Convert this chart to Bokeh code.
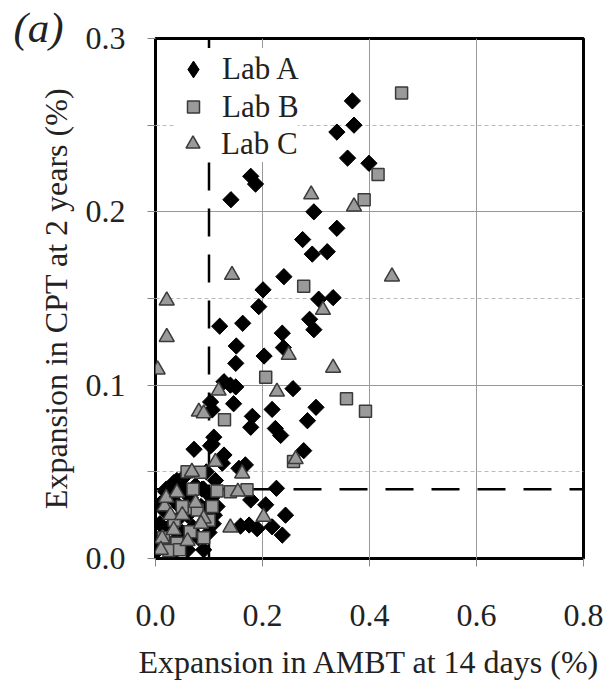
import numpy as np
from bokeh.plotting import figure
from bokeh.models import Range1d, Title, Legend, LegendItem, FixedTicker, PrintfTickFormatter
from bokeh.embed import file_html
from bokeh.resources import INLINE

# ---- data ----
lab_a_x = [0.368, 0.371, 0.339, 0.359, 0.399, 0.178, 0.187, 0.141, 0.296, 0.339,
           0.275, 0.293, 0.321, 0.240, 0.201, 0.305, 0.332, 0.193, 0.288, 0.296,
           0.120, 0.163, 0.237, 0.151, 0.239, 0.203, 0.150, 0.128, 0.140, 0.150,
           0.257, 0.103, 0.146, 0.300, 0.218, 0.106, 0.181, 0.284, 0.178, 0.224,
           0.234, 0.109, 0.103, 0.072, 0.277, 0.125, 0.128, 0.106, 0.156, 0.168,
           0.053, 0.034, 0.019, 0.062, 0.087, 0.226, 0.178, 0.103, 0.009, 0.206,
           0.243, 0.159, 0.175, 0.190, 0.218, 0.237,
           0.005, 0.010, 0.008, 0.015, 0.020, 0.025, 0.030, 0.035, 0.040, 0.045,
           0.050, 0.055, 0.060, 0.065, 0.070, 0.075, 0.080, 0.085, 0.090, 0.095,
           0.100, 0.105, 0.110, 0.112, 0.095, 0.020, 0.040, 0.060, 0.030, 0.090,
           0.115, 0.108]
lab_a_y = [0.264, 0.250, 0.246, 0.231, 0.228, 0.2205, 0.216, 0.207, 0.200, 0.1905,
           0.184, 0.1756, 0.177, 0.1626, 0.155, 0.1496, 0.1505, 0.1453, 0.138, 0.132,
           0.134, 0.1357, 0.130, 0.1226, 0.1217, 0.1168, 0.1126, 0.102, 0.100, 0.099,
           0.098, 0.0903, 0.0893, 0.0872, 0.086, 0.0857, 0.082, 0.0795, 0.0757, 0.075,
           0.071, 0.070, 0.065, 0.063, 0.0622, 0.055, 0.0597, 0.066, 0.052, 0.054,
           0.047, 0.0437, 0.0385, 0.039, 0.040, 0.0405, 0.0338, 0.0316, 0.0316, 0.031,
           0.025, 0.0187, 0.0193, 0.0172, 0.0183, 0.0135,
           0.005, 0.012, 0.020, 0.028, 0.008, 0.018, 0.035, 0.010, 0.022, 0.030,
           0.015, 0.040, 0.025, 0.035, 0.018, 0.042, 0.012, 0.030, 0.040, 0.028,
           0.015, 0.035, 0.025, 0.045, 0.050, 0.040, 0.045, 0.005, 0.002, 0.005,
           0.030, 0.020]

lab_b_x = [0.460, 0.416, 0.390, 0.277, 0.206, 0.357, 0.3925, 0.129, 0.059, 0.084,
           0.115, 0.140, 0.171, 0.106, 0.065, 0.078, 0.065, 0.040, 0.025, 0.258,
           0.015, 0.035, 0.050, 0.070, 0.090, 0.100, 0.045]
lab_b_y = [0.2685, 0.2215, 0.207, 0.157, 0.1045, 0.0922, 0.085, 0.080, 0.050, 0.0497,
           0.039, 0.0385, 0.0397, 0.030, 0.029, 0.028, 0.0155, 0.0088, 0.0046, 0.056,
           0.012, 0.022, 0.030, 0.040, 0.012, 0.022, 0.005]

lab_c_x = [0.371, 0.291, 0.143, 0.442, 0.021, 0.313, 0.021, 0.249, 0.332, 0.004,
           0.118, 0.227, 0.081, 0.090, 0.262, 0.112, 0.162, 0.068, 0.154, 0.017,
           0.028, 0.090, 0.140, 0.202, 0.034, 0.0125,
           0.020, 0.050, 0.060, 0.075, 0.040, 0.085, 0.010]
lab_c_y = [0.203, 0.210, 0.1636, 0.1626, 0.1488, 0.1434, 0.1277, 0.1174, 0.110, 0.109,
           0.0968, 0.0962, 0.0847, 0.0837, 0.0573, 0.0557, 0.049, 0.050, 0.0385, 0.030,
           0.025, 0.023, 0.0178, 0.024, 0.0164, 0.0115,
           0.035, 0.025, 0.010, 0.032, 0.038, 0.020, 0.005]

x_ticks = [0.0, 0.2, 0.4, 0.6, 0.8]
y_ticks = [0.0, 0.1, 0.2, 0.3]
y_minor_ticks = [0.05, 0.15, 0.25]
ambt_limit = 0.10   # AMBT 14-day limit (%)
cpt_limit = 0.04    # CPT 2-year limit (%)

x_title = "Expansion in AMBT at 14 days (%)"
y_title = "Expansion in CPT at 2 years (%)"
panel_tag = "(a)"
series_names = ["Lab A", "Lab B", "Lab C"]

FONT = "Liberation Serif"
FS = "32px"

p = figure(width=605, height=685, output_backend="svg", toolbar_location=None,
           x_range=Range1d(x_ticks[0], x_ticks[-1]), y_range=Range1d(y_ticks[0], y_ticks[-1]),
           min_border_left=155, min_border_right=22, min_border_top=38, min_border_bottom=127)

p.background_fill_color = "white"
p.border_fill_color = "white"
p.outline_line_color = "black"
p.outline_line_width = 3

p.xaxis.ticker = FixedTicker(ticks=x_ticks, minor_ticks=[])
p.yaxis.ticker = FixedTicker(ticks=y_ticks, minor_ticks=y_minor_ticks)
p.xaxis.formatter = PrintfTickFormatter(format="%.1f")
p.yaxis.formatter = PrintfTickFormatter(format="%.1f")

for ax in (p.xaxis[0], p.yaxis[0]):
    ax.axis_line_color = None
    ax.major_tick_line_color = "#888888"
    ax.minor_tick_line_color = "#888888"
    ax.major_tick_in = 0
    ax.major_tick_out = 8
    ax.minor_tick_in = 0
    ax.minor_tick_out = 8
    ax.major_label_text_font = FONT
    ax.major_label_text_font_size = FS
    ax.major_label_text_color = "#222222"
    ax.axis_label_text_font = FONT
    ax.axis_label_text_font_size = FS
    ax.axis_label_text_font_style = "normal"
    ax.axis_label_text_color = "#222222"

p.xaxis.axis_label = x_title
p.yaxis.axis_label = y_title
p.xaxis.major_label_standoff = 38
p.xaxis.axis_label_standoff = 15
p.yaxis.major_label_standoff = 22
p.yaxis.axis_label_standoff = 9

p.xgrid.grid_line_color = "#999999"
p.ygrid.grid_line_color = "#999999"
p.ygrid.minor_grid_line_color = "#bbbbbb"
p.ygrid.minor_grid_line_dash = "4 3"

# limit lines
p.line(x=[ambt_limit, ambt_limit], y=[y_ticks[0], y_ticks[-1]],
       line_color="black", line_width=2.5, line_dash="28 18")
p.line(x=[x_ticks[0], x_ticks[-1]], y=[cpt_limit, cpt_limit],
       line_color="black", line_width=2.5, line_dash="28 18")

# Lab A: a diamond layer (used as the legend key) under rotated squares
ra_key = p.scatter(lab_a_x, lab_a_y, marker="diamond", size=15,
                   fill_color="black", line_color="black", line_width=1)
ra = p.scatter(lab_a_x, lab_a_y, marker="square", angle=np.pi / 4, size=11.5,
               fill_color="black", line_color="black", line_width=1)
rb = p.scatter(lab_b_x, lab_b_y, marker="square", size=12,
               fill_color="#9a9a9a", line_color="#3a3a3a", line_width=1.5)
rc = p.scatter(lab_c_x, lab_c_y, marker="triangle", size=15,
               fill_color="#9a9a9a", line_color="#3a3a3a", line_width=1.5)


def make_legend(label, renderer, gw, gh, standoff, loc):
    return Legend(items=[LegendItem(label=label, renderers=[renderer])],
                  location=loc, margin=0, padding=0, spacing=0,
                  glyph_width=gw, glyph_height=gh, label_height=37, label_standoff=standoff,
                  label_text_font=FONT, label_text_font_size="31px", label_text_color="#222222",
                  background_fill_color="white", background_fill_alpha=1.0,
                  border_line_color=None)


p.add_layout(make_legend(series_names[0], ra_key, 42, 42, 8, (17, 468)))
p.add_layout(make_legend(series_names[1], rb, 30, 37, 14, (23, 433)))
p.add_layout(make_legend(series_names[2], rc, 35, 37, 11, (20, 396)))

tag = Title(text=panel_tag, align="left", offset=-142, standoff=-25,
            text_font=FONT, text_font_style="italic", text_font_size="43px",
            text_color="#222222", vertical_align="bottom")
p.add_layout(tag, "above")

open("out.html", "w").write(file_html(p, INLINE))
